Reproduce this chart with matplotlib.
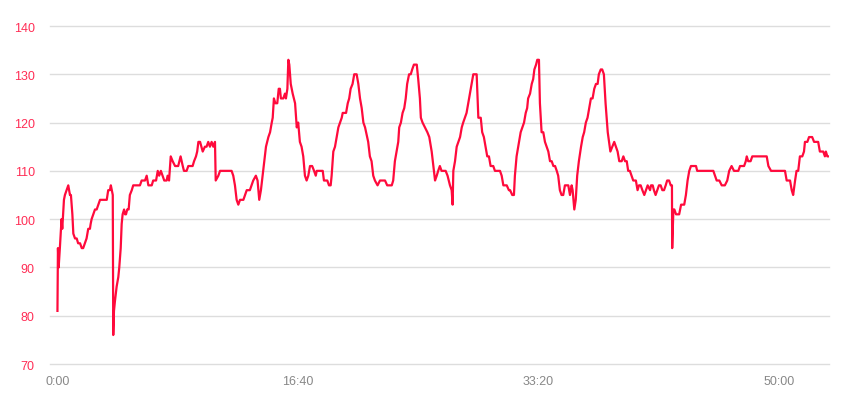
import numpy as np
import matplotlib.pyplot as plt
from matplotlib.ticker import FuncFormatter, MultipleLocator

# elapsed time in seconds
time_s = [0, 2, 5, 10, 17, 20, 27, 31, 38, 45, 52, 56, 62, 66, 73, 80, 86, 94, 101, 107,
          114, 121, 128, 135, 138, 142, 149, 156, 163, 170, 177, 205, 211, 218, 222, 230,
          232, 235, 239, 246, 253, 257, 263, 267, 271, 277, 281, 285, 290, 296, 301, 309,
          315, 343, 350, 364, 371, 378, 392, 398, 410, 417, 423, 430, 437, 444, 454, 458,
          464, 471, 479, 489, 496, 502, 512, 521, 526, 537, 544, 562, 568, 576, 581, 586,
          593, 604, 613, 620, 627, 634, 641, 648, 655, 658, 669, 676, 717, 724, 731, 738,
          745, 752, 759, 773, 787, 800, 814, 825, 832, 839, 846, 853, 860, 867, 877, 884,
          891, 895, 900, 906, 914, 920, 925, 929, 939, 946, 950, 956, 960, 964, 970, 978,
          988, 995, 1001, 1008, 1015, 1022, 1029, 1036, 1043, 1050, 1059, 1067, 1074, 1078,
          1103, 1108, 1122, 1129, 1136, 1140, 1147, 1154, 1161, 1168, 1175, 1182, 1186,
          1200, 1207, 1213, 1219, 1227, 1234, 1244, 1251, 1258, 1265, 1272, 1279, 1292,
          1299, 1306, 1313, 1320, 1331, 1341, 1362, 1371, 1390, 1396, 1403, 1410, 1417,
          1421, 1428, 1435, 1442, 1448, 1454, 1462, 1469, 1475, 1482, 1494, 1500, 1507,
          1511, 1518, 1528, 1538, 1546, 1556, 1563, 1570, 1577, 1583, 1590, 1597, 1614,
          1622, 1632, 1639, 1643, 1646, 1653, 1660, 1667, 1674, 1681, 1687, 1694, 1701,
          1708, 1715, 1722, 1729, 1743, 1750, 1760, 1766, 1773, 1780, 1787, 1794, 1801,
          1812, 1819, 1840, 1847, 1854, 1868, 1877, 1882, 1891, 1898, 1902, 1909, 1919,
          1926, 1933, 1940, 1947, 1953, 1957, 1965, 1972, 1978, 1983, 1990, 1995, 2002,
          2006, 2013, 2020, 2027, 2034, 2041, 2048, 2055, 2062, 2069, 2076, 2082, 2089,
          2096, 2103, 2110, 2124, 2131, 2138, 2142, 2149, 2155, 2161, 2168, 2177, 2184,
          2190, 2197, 2204, 2211, 2218, 2225, 2232, 2239, 2246, 2251, 2259, 2265, 2272,
          2279, 2288, 2299, 2307, 2315, 2322, 2329, 2336, 2346, 2353, 2360, 2367, 2373,
          2380, 2387, 2394, 2405, 2412, 2418, 2425, 2432, 2440, 2447, 2454, 2464, 2468,
          2475, 2480, 2487, 2494, 2501, 2508, 2515, 2522, 2529, 2535, 2543, 2550, 2555,
          2556, 2561, 2565, 2572, 2585, 2593, 2606, 2613, 2620, 2627, 2634, 2655, 2660,
          2727, 2734, 2741, 2752, 2762, 2775, 2785, 2793, 2803, 2813, 2831, 2838, 2855,
          2862, 2866, 2872, 2882, 2889, 2949, 2956, 2967, 3025, 3032, 3046, 3053, 3059,
          3067, 3073, 3080, 3087, 3097, 3104, 3108, 3118, 3125, 3138, 3146, 3163, 3170,
          3184, 3191, 3195, 3201, 3207]

# heart rate, bpm
heart_rate = [81, 94, 90, 94, 100, 98, 104, 105, 106, 107, 105, 105, 101, 97, 96, 96, 95, 95, 94, 94,
              95, 96, 98, 98, 99, 100, 101, 102, 102, 103, 104, 104, 106, 106, 107, 105,
              76, 81, 83, 86, 88, 90, 94, 99, 101, 102, 101, 101, 102, 102, 105, 106,
              107, 107, 108, 108, 109, 107, 107, 108, 108, 110, 109, 110, 109, 108, 108, 109,
              108, 113, 112, 111, 111, 111, 113, 111, 110, 110, 111, 111, 112, 113, 114, 116,
              116, 114, 115, 115, 116, 115, 116, 115, 116, 108, 109, 110, 110, 110, 109, 107,
              104, 103, 104, 104, 106, 106, 108, 109, 108, 104, 106, 109, 112, 115, 117, 118,
              120, 121, 125, 124, 124, 127, 127, 125, 125, 126, 125, 127, 133, 132, 128, 126,
              124, 119, 120, 116, 115, 113, 109, 108, 109, 111, 111, 110, 109, 110,
              110, 108, 108, 107, 107, 109, 114, 115, 117, 119, 120, 121, 122,
              122, 124, 125, 127, 128, 130, 130, 128, 125, 123, 120, 119, 116,
              113, 112, 109, 108, 107, 108, 108, 107, 107, 108, 112, 114, 116,
              119, 120, 122, 123, 125, 128, 130, 130, 131, 132, 132, 129, 125,
              121, 120, 119, 118, 117, 114, 111, 108, 109, 110, 111, 110, 110,
              109, 107, 106, 103, 110, 112, 115, 116, 117, 119, 120, 121, 122,
              124, 126, 128, 130, 130, 121, 121, 118, 117, 115, 113, 113, 111,
              111, 110, 110, 109, 107, 107, 106, 106, 105, 105, 109, 113, 116,
              118, 119, 120, 122, 123, 125, 126, 128, 129, 131, 132, 133, 133,
              124, 118, 118, 116, 115, 114, 112, 112, 111, 111, 110, 109, 106,
              105, 105, 107, 107, 105, 107, 106, 102, 104, 109, 112, 115, 117,
              118, 120, 121, 123, 125, 125, 127, 128, 128, 130, 131, 131, 130,
              124, 118, 114, 115, 116, 115, 114, 112, 112, 113, 112, 112, 110,
              110, 109, 108, 108, 106, 107, 107, 106, 105, 106, 107, 106, 107,
              107, 106, 105, 106, 107, 107, 106, 106, 107, 108, 108, 107, 107,
              94, 102, 102, 101, 101, 103, 103, 105, 108, 110, 111, 111, 110,
              110, 109, 108, 108, 107, 107, 108, 110, 111, 110, 110, 111, 111,
              112, 113, 112, 112, 113, 113, 111, 110, 110, 108, 108, 106, 105,
              108, 110, 110, 113, 113, 114, 116, 116, 117, 117, 116, 116, 114,
              114, 113, 114, 113, 113]

line_color = "#ff0a3c"
label_red = "#ff2d55"
grid_gray = "#dddddd"


def mmss(value, pos):
    value = int(round(value))
    return "%d:%02d" % (value // 60, value % 60)


def main():
    plt.rcParams["font.family"] = ["Liberation Sans", "DejaVu Sans"]
    fig = plt.figure(figsize=(8.54, 4.02), dpi=100)
    ax = fig.add_axes([50 / 854, 37 / 402, 779 / 854, 338 / 402])

    ax.plot(time_s, heart_rate, color=line_color, linewidth=1.6, solid_joinstyle="round")

    ax.set_xlim(-31, 3208)
    ax.set_ylim(70, 140)
    ax.yaxis.set_major_locator(MultipleLocator(10))
    ax.xaxis.set_major_locator(MultipleLocator(1000))
    ax.xaxis.set_major_formatter(FuncFormatter(mmss))

    ax.grid(axis="y", color=grid_gray, linewidth=1)
    for gl in ax.get_ygridlines():
        gl.set_clip_on(False)
    ax.set_axisbelow(True)
    for side in ["top", "right", "left", "bottom"]:
        ax.spines[side].set_visible(False)

    ax.tick_params(axis="y", length=0, pad=11, labelsize=9, labelcolor=label_red)
    ax.tick_params(axis="x", length=0, pad=8, labelsize=9, labelcolor="#888888")

    fig.savefig("out.png", dpi=100)


if __name__ == '__main__':
    main()
